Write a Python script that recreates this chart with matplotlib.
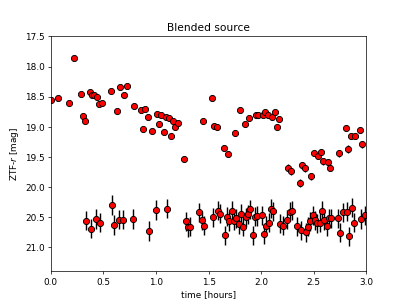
import matplotlib
matplotlib.use("Agg")
import matplotlib.pyplot as plt

# Bright (upper) series
t_bright = [0.00, 0.065, 0.172, 0.22, 0.283, 0.305, 0.327, 0.372, 0.391, 0.413,
            0.435, 0.458, 0.483, 0.569, 0.632, 0.657, 0.692, 0.721, 0.788, 0.854,
            0.895, 0.876, 0.921, 0.965, 1.006, 1.029, 1.051, 1.073, 1.092, 1.12,
            1.140, 1.162, 1.184, 1.209, 1.270, 1.447, 1.533, 1.555, 1.578, 1.645,
            1.688, 1.755, 1.80, 1.842, 1.885, 1.950, 1.974, 2.015, 2.037, 2.062,
            2.104, 2.127, 2.148, 2.173, 2.26, 2.285, 2.370, 2.392, 2.415, 2.478,
            2.500, 2.545, 2.567, 2.589, 2.634, 2.656, 2.741, 2.829, 2.808, 2.851,
            2.895, 2.938, 2.960]
m_bright = [18.55, 18.53, 18.61, 17.86, 18.45, 18.82, 18.91, 18.42, 18.47, 18.48,
            18.51, 18.63, 18.60, 18.41, 18.73, 18.34, 18.48, 18.33, 18.66, 18.72,
            18.71, 19.04, 18.84, 19.07, 18.79, 18.96, 18.80, 19.08, 18.83, 18.86,
            19.15, 18.91, 19.01, 18.94, 19.54, 18.91, 18.52, 18.99, 19.01, 19.35,
            19.45, 19.10, 18.72, 18.96, 18.86, 18.80, 18.81, 18.80, 18.76, 18.81,
            18.84, 18.76, 19.00, 18.87, 19.68, 19.74, 19.93, 19.64, 19.69, 19.82,
            19.43, 19.48, 19.42, 19.57, 19.59, 19.68, 19.44, 19.37, 19.02, 19.15,
            19.15, 19.05, 19.29]
e_bright = [0.03, 0.03, 0.03, 0.03, 0.03, 0.03, 0.03, 0.03, 0.03, 0.03,
            0.03, 0.03, 0.03, 0.03, 0.03, 0.03, 0.03, 0.03, 0.03, 0.03,
            0.03, 0.04, 0.03, 0.04, 0.03, 0.04, 0.03, 0.04, 0.03, 0.03,
            0.04, 0.03, 0.04, 0.04, 0.05, 0.04, 0.04, 0.04, 0.04, 0.05,
            0.05, 0.05, 0.04, 0.04, 0.04, 0.04, 0.04, 0.04, 0.04, 0.04,
            0.04, 0.04, 0.04, 0.04, 0.06, 0.06, 0.07, 0.06, 0.06, 0.06,
            0.05, 0.05, 0.05, 0.06, 0.06, 0.06, 0.06, 0.06, 0.05, 0.05,
            0.05, 0.05, 0.06]

# Faint (lower) series
t_faint = [0.337, 0.382, 0.426, 0.470, 0.578, 0.600, 0.645, 0.689, 0.778, 0.933,
           0.997, 1.108, 1.283, 1.305, 1.327, 1.412, 1.436, 1.457, 1.545, 1.590,
           1.612, 1.657, 1.679, 1.698, 1.720, 1.742, 1.764, 1.787, 1.809, 1.831,
           1.853, 1.875, 1.897, 1.920, 1.942, 1.964, 2.005, 2.028, 2.050, 2.070,
           2.090, 2.116, 2.183, 2.205, 2.249, 2.272, 2.294, 2.339, 2.380, 2.424,
           2.446, 2.468, 2.491, 2.513, 2.535, 2.557, 2.580, 2.602, 2.624, 2.646,
           2.668, 2.732, 2.754, 2.776, 2.817, 2.839, 2.862, 2.884, 2.948, 2.992]
m_faint = [20.56, 20.69, 20.53, 20.59, 20.30, 20.63, 20.54, 20.54, 20.53, 20.73,
           20.38, 20.36, 20.57, 20.67, 20.66, 20.42, 20.55, 20.64, 20.50, 20.39,
           20.44, 20.80, 20.49, 20.57, 20.39, 20.56, 20.52, 20.62, 20.44, 20.66,
           20.50, 20.45, 20.37, 20.80, 20.49, 20.48, 20.47, 20.78, 20.64, 20.59,
           20.36, 20.40, 20.61, 20.64, 20.54, 20.41, 20.39, 20.65, 20.72, 20.75,
           20.66, 20.57, 20.47, 20.55, 20.60, 20.59, 20.39, 20.55, 20.65, 20.52,
           20.52, 20.52, 20.76, 20.42, 20.41, 20.82, 20.34, 20.59, 20.53, 20.47]
e_faint = 0.16

x_ticks = [0.0, 0.5, 1.0, 1.5, 2.0, 2.5, 3.0]
y_ticks = [17.5, 18.0, 18.5, 19.0, 19.5, 20.0, 20.5, 21.0]

fig, ax = plt.subplots(figsize=(6.4, 4.8), dpi=407 / 6.4)

style = dict(fmt="o", color="black", mfc="red", mec="black", ms=7,
             mew=1.0, elinewidth=1.6, capsize=0)
ax.errorbar(t_bright, m_bright, yerr=e_bright, **style)
ax.errorbar(t_faint, m_faint, yerr=e_faint, **style)

ax.set_xlim(0, 3.0)
ax.set_ylim(21.4, 17.5)
ax.set_xticks(x_ticks)
ax.set_yticks(y_ticks)
ax.set_xlabel("time [hours]")
ax.set_ylabel("ZTF-$r$ [mag]")
ax.set_title("Blended source")

fig.savefig("out.png", dpi=407 / 6.4)
